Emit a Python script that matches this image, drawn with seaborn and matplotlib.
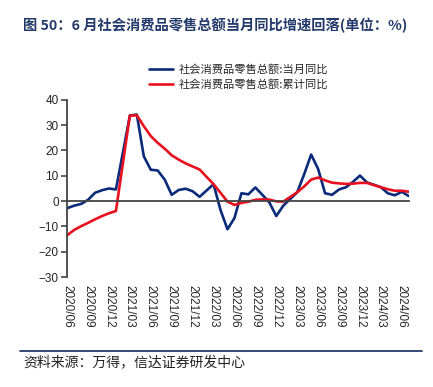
import pandas as pd
import matplotlib
matplotlib.use("Agg")
import matplotlib.pyplot as plt
from matplotlib.lines import Line2D
import seaborn as sns

# monthly data, January not published separately (Jan-Feb combined)
months = ["2020/05", "2020/06", "2020/07", "2020/08", "2020/09", "2020/10", "2020/11", "2020/12",
          "2021/02", "2021/03", "2021/04", "2021/05", "2021/06", "2021/07", "2021/08", "2021/09",
          "2021/10", "2021/11", "2021/12",
          "2022/02", "2022/03", "2022/04", "2022/05", "2022/06", "2022/07", "2022/08", "2022/09",
          "2022/10", "2022/11", "2022/12",
          "2023/02", "2023/03", "2023/04", "2023/05", "2023/06", "2023/07", "2023/08", "2023/09",
          "2023/10", "2023/11", "2023/12",
          "2024/02", "2024/03", "2024/04", "2024/05", "2024/06"]
monthly = [-2.8, -1.8, -1.1, 0.5, 3.3, 4.3, 5.0, 4.6,
           33.8, 34.2, 17.7, 12.4, 12.1, 8.5, 2.5, 4.4, 4.9, 3.9, 1.7,
           6.7, -3.5, -11.1, -6.7, 3.1, 2.7, 5.4, 2.5, -0.5, -5.9, -1.8,
           3.5, 10.6, 18.4, 12.7, 3.1, 2.5, 4.6, 5.5, 7.6, 10.1, 7.4,
           5.5, 3.1, 2.3, 3.7, 2.0]
cumulative = [-13.5, -11.4, -9.9, -8.6, -7.2, -5.9, -4.8, -3.9,
              33.8, 33.9, 29.6, 25.7, 23.0, 20.7, 18.1, 16.4, 14.9, 13.7, 12.5,
              6.7, 3.3, -0.2, -1.5, -0.7, -0.2, 0.5, 0.7, 0.6, -0.1, -0.2,
              3.5, 5.8, 8.5, 9.3, 8.2, 7.3, 7.0, 6.8, 6.9, 7.2, 7.2,
              5.5, 4.7, 4.1, 4.1, 3.7]
tick_labels = ["2020/06", "2020/09", "2020/12", "2021/03", "2021/06", "2021/09", "2021/12",
               "2022/03", "2022/06", "2022/09", "2022/12", "2023/03", "2023/06", "2023/09",
               "2023/12", "2024/03", "2024/06"]
label_monthly = "社会消费品零售总额:当月同比"
label_cum = "社会消费品零售总额:累计同比"

sns.set_style("white")
plt.rcParams["font.family"] = ["Liberation Sans", "Noto Sans CJK SC", "DejaVu Sans"]

d = pd.to_datetime(pd.Series(months), format="%Y/%m")
t = (d.dt.year - 2020) * 12 + d.dt.month - 5
df = pd.DataFrame({"t": t, "monthly": monthly, "cum": cumulative})

fig = plt.figure(figsize=(4.33, 3.87), dpi=100)
ax = fig.add_axes([0.155, 0.284, 0.789, 0.458])

blue = "#0a2a7a"
red = "#e8101e"
sns.lineplot(data=df, x="t", y="monthly", ax=ax, color=blue, lw=1.9, label=label_monthly)
sns.lineplot(data=df, x="t", y="cum", ax=ax, color=red, lw=1.9, label=label_cum)

ax.set_xlim(0, 49)
ax.set_ylim(-30, 40)
ax.set_yticks(range(-30, 41, 10))
ax.set_xlabel("")
ax.set_ylabel("")

axis_c = "#444444"
for s in ["top", "right"]:
    ax.spines[s].set_visible(False)
ax.spines["left"].set_color(axis_c)
ax.spines["left"].set_linewidth(1.3)
ax.spines["bottom"].set_position(("data", 0))
ax.spines["bottom"].set_color(axis_c)
ax.spines["bottom"].set_linewidth(1.3)

ax.set_xticks(range(0, 49, 3))
ax.tick_params(axis="x", direction="in", length=4, width=1.2, color=axis_c, labelbottom=False)
ax.tick_params(axis="y", direction="out", length=4, width=1.2, color=axis_c, labelsize=8.5,
               pad=2, left=True)

sec = ax.secondary_xaxis("bottom")
sec.set_xticks(range(0, 49, 3), labels=tick_labels, rotation=-90, fontsize=8.5)
sec.tick_params(length=0, pad=6)
sec.spines["bottom"].set_visible(False)

ax.get_legend().remove()
fig.legend(loc="upper left", bbox_to_anchor=(0.343, 0.835), frameon=False,
           handlelength=2.2, handletextpad=0.45, labelspacing=0.35,
           borderpad=0, borderaxespad=0, prop={"family": ["Noto Sans CJK SC"], "size": 8.1})

fig.text(0.053, 0.935, "图 50：6 月社会消费品零售总额当月同比增速回落(单位：%)",
         fontsize=10.3, fontweight="bold", color="#243a6b", va="center",
         family=["Noto Sans CJK SC", "DejaVu Sans"])
fig.add_artist(Line2D([0.046, 0.975], [0.093, 0.093], color="#243a6b", lw=1.3))
fig.text(0.053, 0.065, "资料来源：万得，信达证券研发中心", fontsize=10, color="#222222",
         va="center", family=["Noto Sans CJK SC", "DejaVu Sans"])

fig.savefig("out.png", dpi=100)
